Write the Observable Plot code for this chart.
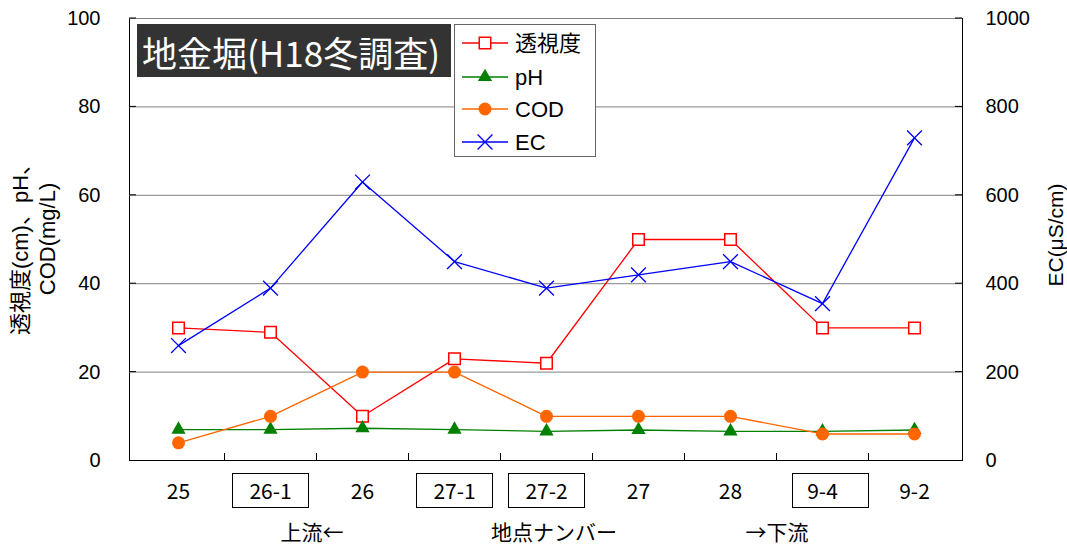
<!DOCTYPE html>
<html><head><meta charset="utf-8">
<script src="https://cdn.jsdelivr.net/npm/d3@7"></script>
<script src="https://cdn.jsdelivr.net/npm/@observablehq/plot@0.6"></script>
<style>
html,body{margin:0;padding:0;background:#fff;}
#chart{position:relative;width:1067px;height:551px;overflow:hidden;}
</style></head><body><div id="chart"></div>
<script>
// ---- data ----
const sites = ["25","26-1","26","27-1","27-2","27","28","9-4","9-2"];
const boxedSites = ["26-1","27-1","27-2","9-4"];
const transparency = [30,29,10,23,22,50,50,30,30];
const pH = [7.0,7.0,7.3,7.0,6.6,6.9,6.6,6.6,6.9];
const cod = [4,10,20,20,10,10,10,6,6];
const ec = [260,390,630,450,390,420,450,355,730];
const leftTicks = [0,20,40,60,80,100];
const rightTicks = [0,200,400,600,800,1000];
const seriesNames = ["透視度","pH","COD","EC"];
const seriesColors = ["#FF0000","#008000","#FF6600","#0000FF"];
const title = "地金堀(H18冬調査)";
const yLabelLines = ["透視度(cm)、pH、","COD(mg/L)"];
const y2Label = "EC(μS/cm)";
const xLabelParts = ["上流←","地点ナンバー","→下流"];

const ecRatio = rightTicks[rightTicks.length-1] / leftTicks[leftTicks.length-1];
const rows = sites.map((s,i)=>({site:s, t:transparency[i], ph:pH[i], cod:cod[i], ec:ec[i]/ecRatio}));

const latin = "'Liberation Sans', Arial, 'Noto Sans CJK JP', sans-serif";
const jp = "'Noto Sans CJK JP', sans-serif";

const plot = Plot.plot({
  width:1067, height:551,
  marginLeft:129, marginRight:105, marginTop:18, marginBottom:91,
  x:{type:"point", domain:sites, padding:0.5, align:0.5},
  y:{domain:[0,100]},
  style:{fontFamily:latin, background:"white", color:"#000"},
  marks:[
    Plot.frame({stroke:"#000", strokeWidth:1}),
    Plot.gridY(leftTicks.slice(1), {stroke:"#808080", strokeOpacity:1, strokeWidth:1}),
    Plot.axisY(leftTicks, {anchor:"left", tickSize:0, tickPadding:29, fontSize:20, label:null}),
    Plot.axisY(leftTicks, {anchor:"right", tickSize:0, tickPadding:23, fontSize:20, label:null,
      tickFormat:(d,i)=>String(rightTicks[i])}),
    Plot.axisX({tickSize:0, tickPadding:24, fontSize:21, fontFamily:jp, label:null}),
    // 透視度
    Plot.line(rows, {x:"site", y:"t", stroke:seriesColors[0], strokeWidth:1.3}),
    Plot.dot(rows, {x:"site", y:"t", symbol:"square", r:6.5, stroke:seriesColors[0], fill:"white", strokeWidth:1.5}),
    // pH
    Plot.line(rows, {x:"site", y:"ph", stroke:seriesColors[1], strokeWidth:1.3}),
    Plot.dot(rows, {x:"site", y:"ph", symbol:"triangle", r:5.3, fill:seriesColors[1], stroke:"none"}),
    // COD
    Plot.line(rows, {x:"site", y:"cod", stroke:seriesColors[2], strokeWidth:1.3}),
    Plot.dot(rows, {x:"site", y:"cod", symbol:"circle", r:6.5, fill:seriesColors[2], stroke:"none"}),
    // EC (right axis)
    Plot.line(rows, {x:"site", y:"ec", stroke:seriesColors[3], strokeWidth:1.3}),
    Plot.dot(rows, {x:"site", y:"ec", symbol:"times", r:6.8, stroke:seriesColors[3], strokeWidth:1.3})
  ]
});
document.getElementById("chart").appendChild(plot);

// ---- decorations ----
const svg = d3.select(plot);
const xs = plot.scale("x"), ys = plot.scale("y");
const step = (xs.range[1]-xs.range[0]) / sites.length;
const y0 = ys.apply(0), yTop = ys.apply(100);
const xL = xs.range[0], xR = xs.range[1];
const deco = svg.append("g").attr("text-anchor","start");

// inner x ticks at category boundaries
sites.slice(0,-1).forEach(s=>{
  const bx = Math.round(xs.apply(s) + step/2) + 0.5;
  deco.append("line").attr("x1",bx).attr("x2",bx).attr("y1",y0-7).attr("y2",y0).attr("stroke","#000");
});
// inner y ticks
leftTicks.slice(1).forEach(v=>{
  const yy = ys.apply(v);
  deco.append("line").attr("x1",xL).attr("x2",xL+7).attr("y1",yy).attr("y2",yy).attr("stroke","#000");
  deco.append("line").attr("x1",xR-7).attr("x2",xR).attr("y1",yy).attr("y2",yy).attr("stroke","#000");
});

// boxes around some x tick labels (9-4 box sits slightly to the right, as in the source)
boxedSites.forEach(t=>{
  const cx = xs.apply(t);
  const shift = t === "9-4" ? 8 : 0;
  deco.append("rect").attr("x", Math.round(cx - 38 + shift)+0.5).attr("y", 473.5).attr("width", 76).attr("height", 34)
    .attr("fill","none").attr("stroke","#000").attr("stroke-width",1);
});

// x label
const xlab = deco.append("g").attr("font-family", jp).attr("font-size", 21).attr("fill","#000").attr("text-anchor","middle");
xlab.append("text").attr("x", 312).attr("y", 531).attr("dominant-baseline","central").text(xLabelParts[0]);
xlab.append("text").attr("x", 554).attr("y", 531).attr("dominant-baseline","central").text(xLabelParts[1]);
xlab.append("text").attr("x", 777).attr("y", 531).attr("dominant-baseline","central").text(xLabelParts[2]);

// y labels
const ymid = (y0 + yTop)/2;
const yl = deco.append("g").attr("font-family", latin).attr("font-size", 22).attr("fill","#000").attr("text-anchor","middle");
yl.append("text").attr("transform", `translate(20,${ymid+5}) rotate(-90)`).attr("dominant-baseline","central").text(yLabelLines[0]);
yl.append("text").attr("transform", `translate(47,${ymid}) rotate(-90)`).attr("dominant-baseline","central").text(yLabelLines[1]);
yl.append("text").attr("transform", `translate(1055,${ymid-4}) rotate(-90)`).attr("font-size",21).attr("dominant-baseline","central").text(y2Label);

// title box
deco.append("rect").attr("x",137).attr("y",24).attr("width",314).attr("height",53).attr("fill","#333333");
deco.append("text").attr("x",291).attr("y",51).attr("text-anchor","middle").attr("dominant-baseline","central")
  .attr("font-family", jp).attr("font-size",35).attr("fill","#fff").text(title);

// legend
const lg = deco.append("g");
lg.append("rect").attr("x",454.5).attr("y",24.5).attr("width",141).attr("height",132).attr("fill","#fff").attr("stroke","#666");
const rowsY = [43, 77, 109, 142];
const symbols = [d3.symbolSquare, d3.symbolTriangle, d3.symbolCircle, d3.symbolTimes];
const rs = [6.5,5.3,6.5,6.8];
seriesNames.forEach((name,i)=>{
  const yy = rowsY[i];
  lg.append("line").attr("x1",462).attr("x2",508).attr("y1",yy).attr("y2",yy).attr("stroke",seriesColors[i]).attr("stroke-width",1.3);
  const p = lg.append("path").attr("transform",`translate(485,${yy})`).attr("d", d3.symbol(symbols[i], Math.PI*rs[i]*rs[i])());
  if (i===0) p.attr("fill","#fff").attr("stroke",seriesColors[i]).attr("stroke-width",1.5);
  else if (i===3) p.attr("fill","none").attr("stroke",seriesColors[i]).attr("stroke-width",1.3);
  else p.attr("fill",seriesColors[i]);
  lg.append("text").attr("x",515).attr("y",yy).attr("text-anchor","start").attr("dominant-baseline","central")
    .attr("font-family", latin).attr("font-size",22).attr("fill","#000").text(name);
});
</script></body></html>
